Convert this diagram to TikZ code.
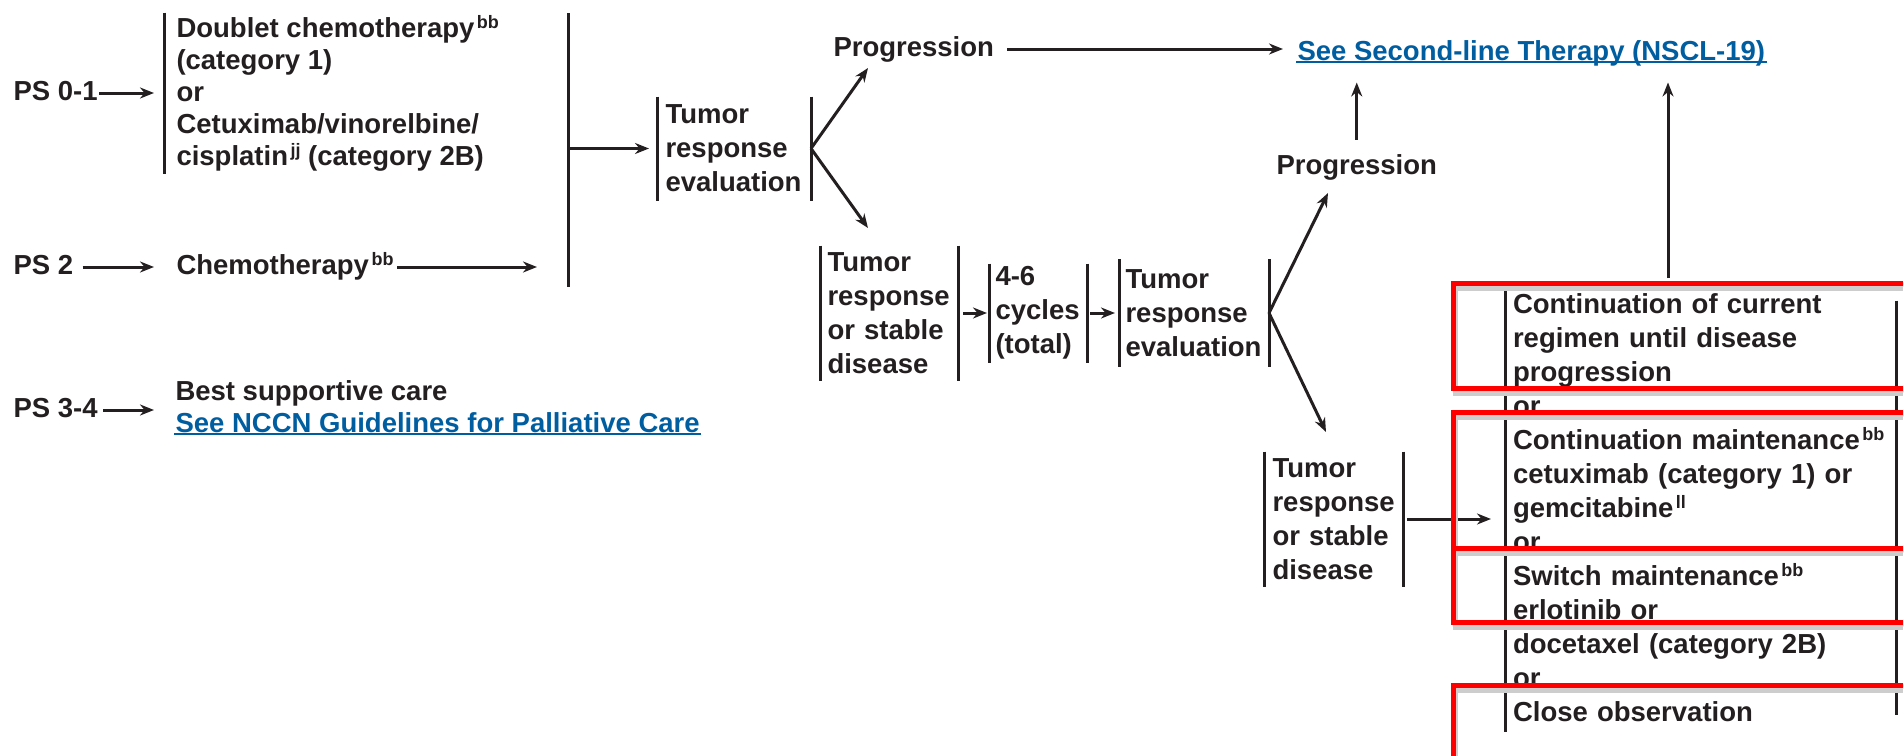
\documentclass[tikz,border=0pt]{standalone}
\usepackage{fontspec}
\setmainfont{Liberation Sans}
\usetikzlibrary{arrows.meta,positioning}

\definecolor{inkblack}{RGB}{35,31,32}
\definecolor{linkblue}{RGB}{0,94,160}
\definecolor{hlred}{RGB}{255,0,0}
\definecolor{hlshadow}{RGB}{205,205,205}

\newcommand\fnref[1]{\kern2.5pt\raisebox{9pt}{\fontsize{18}{18}\selectfont #1}}

\tikzset{
  lbl/.style={inner sep=0pt, text height=20pt, text depth=6pt, anchor=west},
  link/.style={lbl, text=linkblue},
  bbox/.style={inner ysep=0pt, align=left, anchor=west},
  hl/.style={draw=hlred, line width=5pt},
  hlshade/.style={draw=hlshadow, line width=5pt},
}

\begin{document}
\begin{tikzpicture}[x=1pt,y=-1pt,>={Stealth[length=14pt,width=11pt]},line width=3pt,
    color=inkblack,font=\fontsize{27.5}{34}\selectfont\bfseries]

  \useasboundingbox (0,0) rectangle (1903,755);

  % performance status
  \node[lbl] (ps01) at (12,93) {PS 0-1};
  \node[lbl] (ps2)  at (12,267) {PS 2};
  \node[lbl] (ps34) at (12,410) {PS 3-4};

  % first-line therapy
  \node[bbox, inner xsep=11pt, minimum height=158pt, font=\fontsize{27.5}{32}\selectfont\bfseries]
    (doublet) at (164,93) {Doublet chemotherapy\fnref{bb}\\(category 1)\\or\\Cetuximab/vinorelbine/\\cisplatin\fnref{jj} (category 2B)};
  \node[lbl] (chemo) at (175,267) {Chemotherapy\fnref{bb}};
  \node[lbl] (bsc) at (174,393) {Best supportive care};
  \node[link] (palliative) at (174,425) {See NCCN Guidelines for Palliative Care};

  \coordinate (jtop) at (568,13);
  \coordinate (jbot) at (568,287);

  % response evaluation
  \node[bbox, inner xsep=7pt, text width=137pt, minimum height=101pt] (evalA) at (657,148.5) {Tumor\\response\\evaluation};
  \node[lbl] (progA) at (832,49) {Progression};
  \node[link] (secondline) at (1296,53) {See Second-line Therapy (NSCL-19)};
  \node[bbox, inner xsep=6pt, text width=123pt, minimum height=132pt] (stableA) at (820,313) {Tumor\\response\\or stable\\disease};
  \node[bbox, inner xsep=5pt, text width=85pt, minimum height=96pt, right=31pt of stableA] (cycles) {4-6\\cycles\\(total)};
  \node[bbox, inner xsep=5pt, text width=137pt, minimum height=105pt, right=32pt of cycles] (evalB) {Tumor\\response\\evaluation};
  \node[lbl] (progB) at (1275,167) {Progression};
  \node[bbox, inner xsep=7pt, text width=122pt, minimum height=132pt] (stableB) at (1264,519) {Tumor\\response\\or stable\\disease};

  % maintenance
  \node[bbox, inner xsep=6.5pt, text width=375pt, minimum height=445pt] (opts) at (1505,507.5)
    {Continuation of current\\regimen until disease\\progression\\or\\Continuation maintenance\fnref{bb}\\cetuximab (category 1) or\\gemcitabine\fnref{ll}\\or\\Switch maintenance\fnref{bb}\\erlotinib or\\docetaxel (category 2B)\\or\\Close observation};

  \coordinate (fanAup) at (868,68);
  \coordinate (fanAdn) at (868,228);
  \coordinate (fanBup) at (1328,193);
  \coordinate (fanBdn) at (1326,432);
  \coordinate (optsup) at (1668,278);

  % bars
  \foreach \b in {evalA,stableA,cycles,evalB,stableB}
    \draw (\b.north west) -- (\b.south west) (\b.north east) -- (\b.south east);
  \draw (doublet.north west) -- (doublet.south west);
  \draw (jtop) -- (jbot);
  \draw (opts.north west) -- (opts.south west);
  \draw ([yshift=-17pt]opts.north east) -- ([yshift=17pt]opts.south east);

  \foreach \l in {secondline,palliative}
    \draw[linkblue, line width=2.6pt] ([yshift=-2pt]\l.base west) -- ([yshift=-2pt]\l.base east);

  % arrows
  \draw[->, shorten >=10pt] (ps01.east) -- (ps01.east -| doublet.west);
  \draw[->, shorten <=8pt, shorten >=10pt] (ps2.east) -- (ps2.east -| doublet.west);
  \draw[->, shorten <=4pt, shorten >=10pt] (ps34.east) -- (ps34.east -| doublet.west);
  \draw[->, shorten <=2pt, shorten >=31pt] (chemo.east) -- (chemo.east -| jtop);
  \draw[->, shorten >=8pt] (jtop |- evalA.west) -- (evalA.west);
  \draw[->] (evalA.east) -- (fanAup);
  \draw[->] (evalA.east) -- (fanAdn);
  \draw[->, shorten <=12pt, shorten >=13pt] (progA.east) -- (progA.east -| secondline.west);
  \draw[->, shorten <=5pt, shorten >=2pt] (stableA.east) -- (cycles.west);
  \draw[->, shorten <=3pt, shorten >=4pt] (cycles.east) -- (evalB.west);
  \draw[->] (evalB.east) -- (fanBup);
  \draw[->] (evalB.east) -- (fanBdn);
  \draw[->, shorten <=13pt, shorten >=15pt] (progB.north) -- (progB.north |- secondline.south);
  \draw[->, shorten >=15pt] (optsup) -- (optsup |- secondline.south);
  \draw[->, shorten <=4pt, shorten >=14pt] (stableB.east) -- (stableB.east -| opts.west);

  % highlighted rows
  \foreach \t/\b in {283/388,412/548,548/622,685/780} {
    \draw[hlshade] (1455,\t+5) rectangle (1920,\b+5);
    \draw[hl] (1453,\t) rectangle (1920,\b);
  }
\end{tikzpicture}
\end{document}
